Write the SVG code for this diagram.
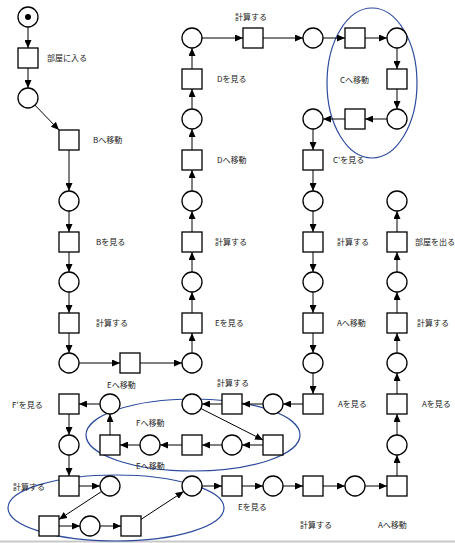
<svg xmlns="http://www.w3.org/2000/svg" width="455" height="543" viewBox="0 0 455 543">
<defs>
<marker id="ah" viewBox="0 0 8 7" refX="8" refY="3.5" markerWidth="8" markerHeight="7" markerUnits="userSpaceOnUse" orient="auto"><path d="M0,0 L8,3.5 L0,7 z" fill="#000"/></marker>
<style>
.pl{fill:#fff;stroke:#000;stroke-width:1.3}
.tr{fill:#fff;stroke:#000;stroke-width:1.3}
.arc{stroke:#000;stroke-width:1;fill:none;marker-end:url(#ah)}
.lb{font-family:"Noto Sans CJK JP","Noto Sans",sans-serif;font-size:8px;fill:#222}
.grp{fill:none;stroke:#2c4b9e;stroke-width:1.2}
</style>
</defs>
<rect width="455" height="543" fill="#fff"/>
<line x1="0" y1="541.5" x2="455" y2="541.5" stroke="#c8c8c8" stroke-width="2"/>
<g id="groups">
<ellipse class="grp" cx="372" cy="83" rx="45" ry="75"/>
<ellipse class="grp" cx="193" cy="435" rx="107" ry="36"/>
<ellipse class="grp" cx="116" cy="508" rx="108" ry="33"/>
</g>
<g id="connectors">
<line class="arc" x1="28" y1="27" x2="28" y2="48"/>
<line class="arc" x1="28" y1="68" x2="28" y2="88"/>
<line class="arc" x1="35" y1="105.2" x2="59" y2="130"/>
<line class="arc" x1="69" y1="150" x2="69" y2="191"/>
<line class="arc" x1="69" y1="211" x2="69" y2="232"/>
<line class="arc" x1="69" y1="252" x2="69" y2="272"/>
<line class="arc" x1="69" y1="292" x2="69" y2="313"/>
<line class="arc" x1="69" y1="333" x2="69" y2="353"/>
<line class="arc" x1="79" y1="363" x2="120" y2="363"/>
<line class="arc" x1="140" y1="363" x2="182" y2="363"/>
<line class="arc" x1="192" y1="353" x2="192" y2="333"/>
<line class="arc" x1="192" y1="313" x2="192" y2="292"/>
<line class="arc" x1="192" y1="272" x2="192" y2="252"/>
<line class="arc" x1="192" y1="232" x2="192" y2="211"/>
<line class="arc" x1="192" y1="191" x2="192" y2="170"/>
<line class="arc" x1="192" y1="150" x2="192" y2="129"/>
<line class="arc" x1="192" y1="109" x2="192" y2="89"/>
<line class="arc" x1="192" y1="69" x2="192" y2="48"/>
<line class="arc" x1="202" y1="38" x2="243" y2="38"/>
<line class="arc" x1="263" y1="38" x2="303" y2="38"/>
<line class="arc" x1="323" y1="38" x2="345" y2="38"/>
<line class="arc" x1="365" y1="38" x2="387" y2="38"/>
<line class="arc" x1="397" y1="48" x2="397" y2="69"/>
<line class="arc" x1="397" y1="89" x2="397" y2="109"/>
<line class="arc" x1="387" y1="119" x2="365" y2="119"/>
<line class="arc" x1="345" y1="119" x2="323" y2="119"/>
<line class="arc" x1="313" y1="129" x2="313" y2="150"/>
<line class="arc" x1="313" y1="170" x2="313" y2="191"/>
<line class="arc" x1="313" y1="211" x2="313" y2="232"/>
<line class="arc" x1="313" y1="252" x2="313" y2="272"/>
<line class="arc" x1="313" y1="292" x2="313" y2="313"/>
<line class="arc" x1="313" y1="333" x2="313" y2="353"/>
<line class="arc" x1="313" y1="373" x2="313" y2="394"/>
<line class="arc" x1="303" y1="404" x2="283" y2="404"/>
<line class="arc" x1="263" y1="404" x2="242" y2="404"/>
<line class="arc" x1="222" y1="404" x2="202" y2="404"/>
<line class="arc" x1="200.9" y1="408.5" x2="263" y2="440"/>
<line class="arc" x1="263" y1="445" x2="242" y2="445"/>
<line class="arc" x1="222" y1="445" x2="202" y2="445"/>
<line class="arc" x1="182" y1="445" x2="160" y2="445"/>
<line class="arc" x1="140" y1="445" x2="120" y2="445"/>
<line class="arc" x1="110" y1="435" x2="110" y2="414"/>
<line class="arc" x1="100" y1="404" x2="79" y2="404"/>
<line class="arc" x1="69" y1="414" x2="69" y2="435"/>
<line class="arc" x1="69" y1="455" x2="69" y2="476"/>
<line class="arc" x1="79" y1="486" x2="100" y2="486"/>
<line class="arc" x1="101.6" y1="491.5" x2="59" y2="519.4"/>
<line class="arc" x1="59" y1="526" x2="80" y2="526"/>
<line class="arc" x1="100" y1="526" x2="121" y2="526"/>
<line class="arc" x1="141" y1="519.4" x2="183.6" y2="491.5"/>
<line class="arc" x1="202" y1="486" x2="222" y2="486"/>
<line class="arc" x1="242" y1="486" x2="263" y2="486"/>
<line class="arc" x1="283" y1="486" x2="303" y2="486"/>
<line class="arc" x1="323" y1="486" x2="345" y2="486"/>
<line class="arc" x1="365" y1="486" x2="387" y2="486"/>
<line class="arc" x1="397" y1="476" x2="397" y2="455"/>
<line class="arc" x1="397" y1="435" x2="397" y2="414"/>
<line class="arc" x1="397" y1="394" x2="397" y2="373"/>
<line class="arc" x1="397" y1="353" x2="397" y2="333"/>
<line class="arc" x1="397" y1="313" x2="397" y2="292"/>
<line class="arc" x1="397" y1="272" x2="397" y2="252"/>
<line class="arc" x1="397" y1="232" x2="397" y2="211"/>
</g>
<g id="p0"><circle class="pl" cx="28" cy="17" r="10"/><circle cx="28" cy="17" r="3" fill="#000"/></g>
<g id="p1"><circle class="pl" cx="28" cy="98" r="10"/></g>
<g id="p2"><circle class="pl" cx="69" cy="201" r="10"/></g>
<g id="p3"><circle class="pl" cx="69" cy="282" r="10"/></g>
<g id="p4"><circle class="pl" cx="69" cy="363" r="10"/></g>
<g id="p5"><circle class="pl" cx="192" cy="363" r="10"/></g>
<g id="p6"><circle class="pl" cx="192" cy="282" r="10"/></g>
<g id="p7"><circle class="pl" cx="192" cy="201" r="10"/></g>
<g id="p8"><circle class="pl" cx="192" cy="119" r="10"/></g>
<g id="p9"><circle class="pl" cx="192" cy="38" r="10"/></g>
<g id="p10"><circle class="pl" cx="313" cy="38" r="10"/></g>
<g id="p11"><circle class="pl" cx="397" cy="38" r="10"/></g>
<g id="p12"><circle class="pl" cx="397" cy="119" r="10"/></g>
<g id="p13"><circle class="pl" cx="313" cy="119" r="10"/></g>
<g id="p14"><circle class="pl" cx="313" cy="201" r="10"/></g>
<g id="p15"><circle class="pl" cx="313" cy="282" r="10"/></g>
<g id="p16"><circle class="pl" cx="313" cy="363" r="10"/></g>
<g id="p17"><circle class="pl" cx="273" cy="404" r="10"/></g>
<g id="p18"><circle class="pl" cx="192" cy="404" r="10"/></g>
<g id="p19"><circle class="pl" cx="232" cy="445" r="10"/></g>
<g id="p20"><circle class="pl" cx="150" cy="445" r="10"/></g>
<g id="p21"><circle class="pl" cx="110" cy="404" r="10"/></g>
<g id="p22"><circle class="pl" cx="69" cy="445" r="10"/></g>
<g id="p23"><circle class="pl" cx="110" cy="486" r="10"/></g>
<g id="p24"><circle class="pl" cx="90" cy="526" r="10"/></g>
<g id="p25"><circle class="pl" cx="192" cy="486" r="10"/></g>
<g id="p26"><circle class="pl" cx="273" cy="486" r="10"/></g>
<g id="p27"><circle class="pl" cx="355" cy="486" r="10"/></g>
<g id="p28"><circle class="pl" cx="397" cy="445" r="10"/></g>
<g id="p29"><circle class="pl" cx="397" cy="363" r="10"/></g>
<g id="p30"><circle class="pl" cx="397" cy="282" r="10"/></g>
<g id="p31"><circle class="pl" cx="397" cy="201" r="10"/></g>
<g id="t0"><rect class="tr" x="18" y="48" width="20" height="20"/><text class="lb" x="47" y="61">部屋に入る</text></g>
<g id="t1"><rect class="tr" x="59" y="130" width="20" height="20"/><text class="lb" x="93" y="143">Bへ移動</text></g>
<g id="t2"><rect class="tr" x="59" y="232" width="20" height="20"/><text class="lb" x="96" y="245">Bを見る</text></g>
<g id="t3"><rect class="tr" x="59" y="313" width="20" height="20"/><text class="lb" x="96" y="326">計算する</text></g>
<g id="t4"><rect class="tr" x="120" y="353" width="20" height="20"/><text class="lb" x="107" y="388">Eへ移動</text></g>
<g id="t5"><rect class="tr" x="182" y="313" width="20" height="20"/><text class="lb" x="215" y="326">Eを見る</text></g>
<g id="t6"><rect class="tr" x="182" y="232" width="20" height="20"/><text class="lb" x="215" y="245">計算する</text></g>
<g id="t7"><rect class="tr" x="182" y="150" width="20" height="20"/><text class="lb" x="217" y="163">Dへ移動</text></g>
<g id="t8"><rect class="tr" x="182" y="69" width="20" height="20"/><text class="lb" x="217" y="82">Dを見る</text></g>
<g id="t9"><rect class="tr" x="243" y="28" width="20" height="20"/><text class="lb" x="235" y="20">計算する</text></g>
<g id="t10"><rect class="tr" x="345" y="28" width="20" height="20"/></g>
<g id="t11"><rect class="tr" x="387" y="69" width="20" height="20"/></g>
<g id="t12"><rect class="tr" x="345" y="109" width="20" height="20"/><text class="lb" x="340" y="83">Cへ移動</text></g>
<g id="t13"><rect class="tr" x="303" y="150" width="20" height="20"/><text class="lb" x="333" y="163">C'を見る</text></g>
<g id="t14"><rect class="tr" x="303" y="232" width="20" height="20"/><text class="lb" x="337" y="245">計算する</text></g>
<g id="t15"><rect class="tr" x="303" y="313" width="20" height="20"/><text class="lb" x="337" y="326">Aへ移動</text></g>
<g id="t16"><rect class="tr" x="303" y="394" width="20" height="20"/><text class="lb" x="338" y="407">Aを見る</text></g>
<g id="t17"><rect class="tr" x="222" y="394" width="20" height="20"/><text class="lb" x="217" y="386">計算する</text></g>
<g id="t18"><rect class="tr" x="263" y="435" width="20" height="20"/></g>
<g id="t19"><rect class="tr" x="182" y="435" width="20" height="20"/><text class="lb" x="136" y="426">Fへ移動</text></g>
<g id="t20"><rect class="tr" x="100" y="435" width="20" height="20"/><text class="lb" x="136" y="469">Eへ移動</text></g>
<g id="t21"><rect class="tr" x="59" y="394" width="20" height="20"/><text class="lb" x="12" y="408">F'を見る</text></g>
<g id="t22"><rect class="tr" x="59" y="476" width="20" height="20"/><text class="lb" x="13" y="490">計算する</text></g>
<g id="t23"><rect class="tr" x="39" y="516" width="20" height="20"/></g>
<g id="t24"><rect class="tr" x="121" y="516" width="20" height="20"/></g>
<g id="t25"><rect class="tr" x="222" y="476" width="20" height="20"/><text class="lb" x="238" y="510">Eを見る</text></g>
<g id="t26"><rect class="tr" x="303" y="476" width="20" height="20"/><text class="lb" x="300" y="528">計算する</text></g>
<g id="t27"><rect class="tr" x="387" y="476" width="20" height="20"/><text class="lb" x="378" y="528">Aへ移動</text></g>
<g id="t28"><rect class="tr" x="387" y="394" width="20" height="20"/><text class="lb" x="422" y="407">Aを見る</text></g>
<g id="t29"><rect class="tr" x="387" y="313" width="20" height="20"/><text class="lb" x="417" y="326">計算する</text></g>
<g id="t30"><rect class="tr" x="387" y="232" width="20" height="20"/><text class="lb" x="415" y="245">部屋を出る</text></g>
</svg>
